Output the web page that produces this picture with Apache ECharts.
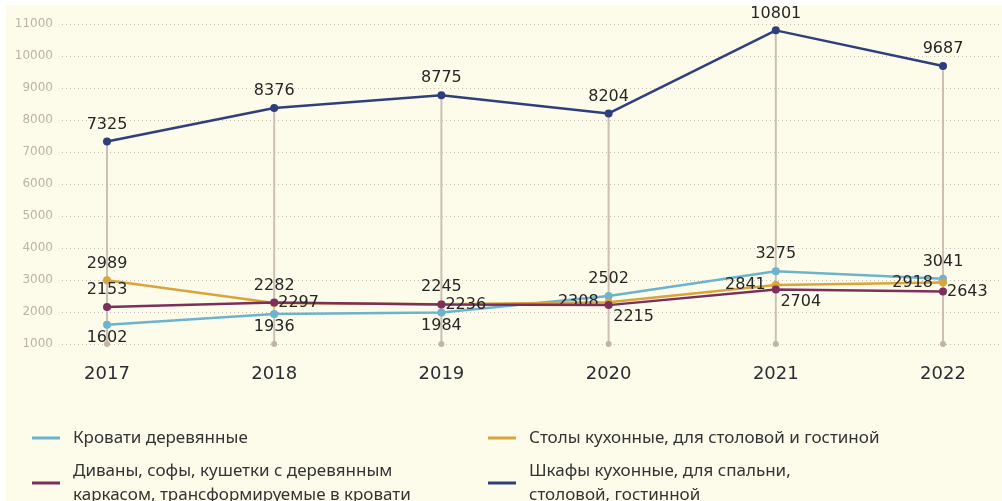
<!DOCTYPE html>
<html>
<head>
<meta charset="utf-8">
<script src="https://cdn.jsdelivr.net/npm/echarts@6/dist/echarts.min.js"></script>
<style>
html,body{margin:0;padding:0;background:#ffffff;}
#chart{width:1002px;height:501px;}
</style>
</head>
<body>
<div id="chart"></div>
<script>
const years = ['2017', '2018', '2019', '2020', '2021', '2022'];
const yTicks = [1000, 11000, 1000]; // min, max, interval
const seriesNames = [
  'Кровати деревянные',
  'Столы кухонные, для столовой и гостиной',
  'Диваны, софы, кушетки с деревянным каркасом, трансформируемые в кровати',
  'Шкафы кухонные, для спальни, столовой, гостинной'
];
const beds = [1602, 1936, 1984, 2502, 3275, 3041];
const tables = [2989, 2282, 2245, 2308, 2841, 2918];
const sofas = [2153, 2297, 2236, 2215, 2704, 2643];
const cabinets = [7325, 8376, 8775, 8204, 10801, 9687];

// label placement (style only)
const bedsLbl = ['bottom', 'bottom', 'bottom', 'top', 'top', 'top'];
const tablesLbl = ['top', 'top', 'top', 'left', 'left', 'left'];
const sofasLbl = ['top', 'right', 'right', 'br', 'br', 'right'];
const cabLbl = ['top', 'top', 'top', 'top', 'top', 'top'];

const colors = ['#6cb3cf', '#d9a43c', '#7b2f5c', '#2f3f7e'];
const FONT = 'DejaVu Sans';

function mkData(vals, lbls) {
  return vals.map((v, i) => {
    const p = lbls[i];
    let label;
    if (p === 'br') label = { position: 'bottom', offset: [25, -5] };
    else if (p === 'right') label = { position: 'right', distance: 0 };
    else if (p === 'left') label = { position: 'left', distance: 6 };
    else if (p === 'bottom') label = { position: 'bottom', distance: 1 };
    else label = { position: 'top', distance: 5 };
    return { value: v, label: label };
  });
}

function lineSeries(idx, vals, lbls) {
  return {
    name: seriesNames[idx],
    type: 'line',
    xAxisIndex: 1, yAxisIndex: 1,
    data: mkData(vals, lbls),
    symbol: 'circle',
    symbolSize: 8,
    lineStyle: { width: 2.5, color: colors[idx] },
    itemStyle: { color: colors[idx] },
    z: 5 + idx,
    label: {
      show: true,
      fontFamily: FONT,
      fontSize: 16,
      color: '#262626'
    }
  };
}

const legendDefs = [
  { idx: 0, left: 27, top: 421, text: seriesNames[0] },
  { idx: 1, left: 483, top: 421, text: seriesNames[1] },
  { idx: 2, left: 27, top: 454, text: 'Диваны, софы, кушетки с деревянным\nкаркасом, трансформируемые в кровати' },
  { idx: 3, left: 483, top: 454, text: 'Шкафы кухонные, для спальни,\nстоловой, гостинной' }
];

const chart = echarts.init(document.getElementById('chart'), null, { renderer: 'canvas' });
chart.setOption({
  animation: false,
  backgroundColor: 'transparent',
  color: colors,
  graphic: {
    elements: [{
      type: 'rect', silent: true, z: -100,
      shape: { x: 6, y: 5, width: 996, height: 496 },
      style: { fill: '#fdfcea' }
    }]
  },
  legend: legendDefs.map(d => ({
    data: [seriesNames[d.idx]],
    left: d.left,
    top: d.top,
    icon: 'rect',
    itemWidth: 28,
    itemHeight: 3,
    selectedMode: false,
    formatter: () => d.text,
    textStyle: {
      fontFamily: 'Noto Sans',
      fontSize: 17,
      lineHeight: 24,
      color: '#333333',
      padding: [0, 0, 0, 8]
    }
  })),
  grid: [
    { left: 62, right: 2, top: 24, bottom: 157 },
    { left: 107, right: 59, top: 24, bottom: 157 }
  ],
  xAxis: [
    { gridIndex: 0, type: 'category', data: years, show: false },
    {
      gridIndex: 1, type: 'category', data: years, boundaryGap: false,
      axisLine: { show: false }, axisTick: { show: false },
      axisLabel: { fontFamily: FONT, fontSize: 18, color: '#2c2c34', margin: 21 }
    }
  ],
  yAxis: [
    {
      gridIndex: 0, type: 'value', min: yTicks[0], max: yTicks[1], interval: yTicks[2],
      axisLine: { show: false }, axisTick: { show: false },
      axisLabel: { fontFamily: FONT, fontSize: 12, color: '#bdb4a6', margin: 9,
        formatter: v => String(v) },
      splitLine: { show: true, lineStyle: { type: [1, 3], color: '#c9bfb1', width: 1 } }
    },
    {
      gridIndex: 1, type: 'value', min: yTicks[0], max: yTicks[1], interval: yTicks[2],
      show: false, splitLine: { show: false }
    }
  ],
  series: [
    {
      type: 'custom',
      xAxisIndex: 1, yAxisIndex: 1,
      silent: true,
      z: 1,
      data: cabinets.map((v, i) => [i, v]),
      renderItem: function (params, api) {
        const top = api.coord([api.value(0), api.value(1)]);
        const base = api.coord([api.value(0), yTicks[0]]);
        return {
          type: 'group',
          children: [
            { type: 'line', shape: { x1: top[0], y1: top[1], x2: base[0], y2: base[1] },
              style: { stroke: '#cbc0b3', lineWidth: 2 } },
            { type: 'circle', shape: { cx: base[0], cy: base[1], r: 3 },
              style: { fill: '#bfb5a9' } }
          ]
        };
      }
    },
    lineSeries(0, beds, bedsLbl),
    lineSeries(1, tables, tablesLbl),
    lineSeries(2, sofas, sofasLbl),
    lineSeries(3, cabinets, cabLbl)
  ]
});
</script>
</body>
</html>
